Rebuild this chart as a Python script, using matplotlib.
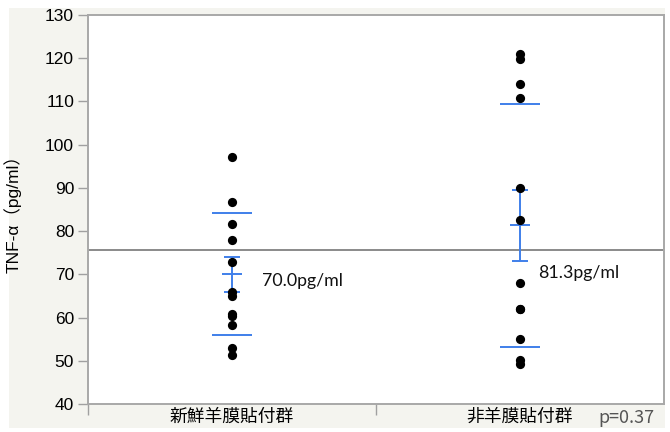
import matplotlib.pyplot as plt
from matplotlib.patches import Rectangle

# TNF-α values per group (pg/ml)
groups = ['新鮮羊膜貼付群', '非羊膜貼付群']
fresh_amnion = [97.2, 86.8, 81.6, 77.9, 72.8, 65.9, 65.0, 60.9, 60.3, 58.3, 53.0, 51.3]
no_amnion = [121.0, 119.8, 114.0, 110.8, 90.0, 82.5, 67.9, 61.9, 61.9, 55.1, 50.2, 49.2]
group_means = [70.0, 81.3]
group_sd = [14.1, 28.0]
group_se = [4.1, 8.1]
mean_labels = ['70.0pg/ml', '81.3pg/ml']
label_pos = [(0.104, 68.5), (1.062, 70.3)]
p_text = 'p=0.37'

fig = plt.figure(figsize=(6.7, 4.32), dpi=100)
fig.patch.set_facecolor('white')
fig.patches.append(Rectangle((9 / 670, 4 / 432), 656 / 670, 420 / 432,
                             transform=fig.transFigure, facecolor='#F4F4EF',
                             edgecolor='none', zorder=-5))

ax = fig.add_axes([88 / 670, 28 / 432, 576 / 670, 389 / 432])
ax.set_facecolor('white')

blue = '#3F7FEA'
for i, vals in enumerate([fresh_amnion, no_amnion]):
    ax.scatter([i] * len(vals), vals, s=44, color='black', zorder=4, linewidths=0)
    m, sd, se = group_means[i], group_sd[i], group_se[i]
    # std dev lines
    ax.hlines([m - sd, m + sd], i - 0.068, i + 0.068, color=blue, lw=1.4, zorder=3)
    # mean with standard error bar
    ax.errorbar(i, m, yerr=se, fmt='none', ecolor=blue, elinewidth=1.4,
                capsize=6, capthick=1.4, zorder=3)
    ax.hlines(m, i - 0.034, i + 0.034, color=blue, lw=1.4, zorder=3)
    ax.text(label_pos[i][0], label_pos[i][1], mean_labels[i],
            fontsize=12.8, family='Lato', va='center', ha='left', color='#111111')

# grand mean line
grand_mean = (group_means[0] * len(fresh_amnion) + group_means[1] * len(no_amnion)) / (
    len(fresh_amnion) + len(no_amnion))
ax.axhline(grand_mean, color='#8A8A8A', lw=1.4, zorder=2)

ax.set_xlim(-0.5, 1.5)
ax.set_ylim(40, 130)
ax.set_yticks(range(40, 131, 10))
ax.tick_params(axis='y', direction='out', length=7, width=1, color='#A0A0A0',
               pad=3, labelsize=12.5)
for lab in ax.get_yticklabels():
    lab.set_family('Liberation Sans')

ax.set_xticks([-0.5, 0.5])
ax.set_xticklabels([])
ax.tick_params(axis='x', which='major', direction='out', length=8, width=1, color='#A0A0A0')
ax.set_xticks([0, 1], minor=True)
ax.set_xticklabels(groups, minor=True, fontsize=12.8, family='Noto Sans CJK JP')
ax.tick_params(axis='x', which='minor', length=0, pad=3)

for side in ax.spines.values():
    side.set_color('#A8A8A8')
    side.set_linewidth(1.4)

ax.set_ylabel('TNF-α（pg/ml）', fontsize=12.5, family=['Liberation Sans', 'Noto Sans CJK JP'])
ax.yaxis.set_label_coords(-0.116, 0.5)

fig.text(655 / 670, 1 - 418 / 432, p_text, ha='right', va='center', fontsize=13,
         color='#555555', family='Noto Sans CJK JP')

fig.savefig('out.png', dpi=100)
plt.close(fig)
